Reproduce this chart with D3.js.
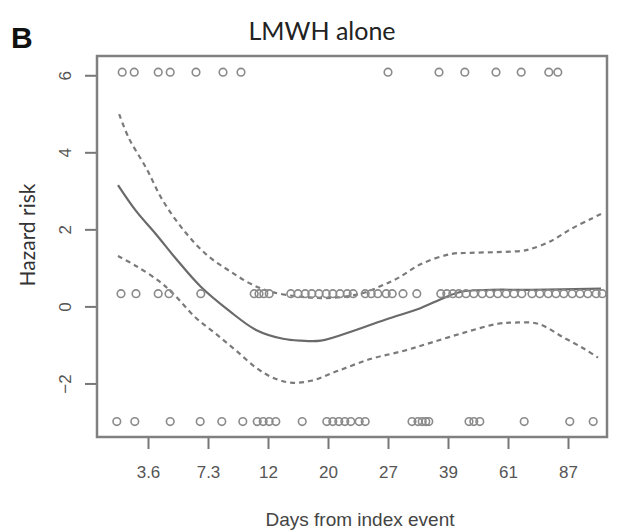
<!DOCTYPE html>
<html>
<head>
<meta charset="utf-8">
<script src="https://cdn.jsdelivr.net/npm/d3@7.9.0/dist/d3.min.js"></script>
<style>
  body { margin: 0; background: #fff; }
  svg { display: block; }
  .tick text { font-family: "Liberation Sans", Arial, sans-serif; font-size: 17px; fill: #555; }
  .tick line { stroke: #777; stroke-width: 2; }
</style>
</head>
<body>
<svg id="chart" width="618" height="532"></svg>
<script>
// x is in axis-position units (tick k sits at k), y is hazard risk
const xTicks = [1, 2, 3, 4, 5, 6, 7, 8];
const xTickLabels = ["3.6", "7.3", "12", "20", "27", "39", "61", "87"];
const yTicks = [-2, 0, 2, 4, 6];

// fitted hazard curve
const fitX = [0.50, 0.80, 1.13, 1.47, 1.88, 2.35, 2.80, 3.25, 3.55, 3.88, 4.43, 5.00, 5.55, 5.93, 6.22, 6.72, 7.38, 8.55];
const fitY = [3.15, 2.48, 1.88, 1.23, 0.51, -0.11, -0.61, -0.84, -0.89, -0.89, -0.63, -0.32, -0.04, 0.22, 0.38, 0.43, 0.43, 0.46];

// upper confidence band
const upX = [0.52, 0.68, 0.97, 1.25, 1.63, 2.00, 2.38, 2.72, 3.05, 3.55, 4.05, 4.55, 4.88, 5.17, 5.55, 6.05, 6.38, 6.83, 7.22, 7.38, 7.72, 8.05, 8.38, 8.55];
const upY = [4.99, 4.37, 3.59, 2.74, 1.91, 1.31, 0.90, 0.58, 0.38, 0.25, 0.22, 0.33, 0.53, 0.74, 1.10, 1.36, 1.39, 1.41, 1.44, 1.49, 1.70, 2.01, 2.27, 2.40];

// lower confidence band
const loX = [0.50, 0.80, 1.18, 1.42, 1.80, 2.13, 2.47, 2.80, 3.08, 3.38, 3.72, 4.17, 4.72, 5.27, 5.72, 6.27, 6.83, 7.10, 7.50, 7.93, 8.27, 8.50];
const loY = [1.31, 1.05, 0.66, 0.33, -0.30, -0.71, -1.15, -1.59, -1.85, -1.98, -1.93, -1.67, -1.36, -1.15, -0.94, -0.68, -0.45, -0.42, -0.45, -0.81, -1.10, -1.33];

// observation rugs (three rows of points)
const topRowY = 6.08;
const topRowX = [0.57, 0.77, 1.17, 1.37, 1.80, 2.25, 2.55, 5.00, 5.85, 6.28, 6.80, 7.22, 7.68, 7.83];
const midRowY = 0.33;
const midRowX = [0.55, 0.80, 1.17, 1.35, 1.88, 2.77, 2.85, 2.93, 3.02, 3.38, 3.50, 3.62, 3.73, 3.85, 3.97, 4.08, 4.20, 4.32, 4.42,
  4.62, 4.72, 4.83, 4.97, 5.07, 5.25, 5.48, 5.88, 5.98, 6.08, 6.18, 6.30, 6.43, 6.57, 6.70, 6.83, 6.97, 7.10, 7.23,
  7.40, 7.53, 7.67, 7.80, 7.93, 8.07, 8.20, 8.33, 8.47, 8.57];
const botRowY = -2.99;
const botRowX = [0.48, 0.78, 1.37, 1.87, 2.23, 2.58, 2.82, 2.92, 3.02, 3.13, 3.57, 3.98, 4.08, 4.18, 4.28, 4.38, 4.52, 4.62,
  5.40, 5.50, 5.57, 5.63, 5.68, 6.35, 6.43, 6.53, 7.27, 8.03, 8.42];

const svg = d3.select("#chart");
const box = { left: 97, right: 607, top: 56, bottom: 437 };

const x = d3.scaleLinear().domain([0.15, 8.65]).range([box.left, box.right]);
const y = d3.scaleLinear().domain([-3.39, 6.5]).range([box.bottom, box.top]);

// x axis
const xAxis = svg.append("g")
    .attr("transform", `translate(0,${box.bottom})`)
    .call(d3.axisBottom(x).tickValues(xTicks).tickSize(12).tickPadding(17)
        .tickFormat((d, i) => xTickLabels[i]));
xAxis.select(".domain").remove();

// y axis with rotated labels
const yAxis = svg.append("g")
    .attr("transform", `translate(${box.left},0)`)
    .call(d3.axisLeft(y).tickValues(yTicks).tickSize(12).tickFormat(d3.format("d")));
yAxis.select(".domain").remove();
yAxis.selectAll(".tick text")
    .attr("x", null).attr("dy", null)
    .attr("text-anchor", "middle")
    .attr("transform", "translate(-32,0) rotate(-90)")
    .attr("dy", "0.35em");

const line = (xs, ys) => d3.line()
    .x((d, i) => x(xs[i]))
    .y((d, i) => y(ys[i]))
    .curve(d3.curveCatmullRom.alpha(0.5))(xs);

svg.append("path").attr("d", line(upX, upY))
    .attr("fill", "none").attr("stroke", "#7a7a7a").attr("stroke-width", 2.2)
    .attr("stroke-dasharray", "5,4");
svg.append("path").attr("d", line(loX, loY))
    .attr("fill", "none").attr("stroke", "#7a7a7a").attr("stroke-width", 2.2)
    .attr("stroke-dasharray", "5,4");
svg.append("path").attr("d", line(fitX, fitY))
    .attr("fill", "none").attr("stroke", "#6a6a6a").attr("stroke-width", 2.2);

// points
const rows = [[topRowX, topRowY], [midRowX, midRowY], [botRowX, botRowY]];
rows.forEach(([xs, yv]) => {
    svg.append("g").selectAll("circle")
        .data(xs)
        .join("circle")
        .attr("cx", d => x(d))
        .attr("cy", y(yv))
        .attr("r", 3.8)
        .attr("fill", "none")
        .attr("stroke", "#8a8a8a")
        .attr("stroke-width", 1.6);
});

// plot frame
svg.append("rect")
    .attr("x", box.left).attr("y", box.top)
    .attr("width", box.right - box.left).attr("height", box.bottom - box.top)
    .attr("fill", "none").attr("stroke", "#808080").attr("stroke-width", 2.5);

// titles
svg.append("text")
    .attr("x", 322).attr("y", 40)
    .attr("text-anchor", "middle")
    .style("font-family", "Lato, 'Open Sans', sans-serif")
    .style("font-size", "25px")
    .attr("fill", "#222")
    .text("LMWH alone");

svg.append("text")
    .attr("x", 11).attr("y", 48)
    .style("font-family", "'Liberation Sans', Arial, sans-serif")
    .style("font-size", "30px").style("font-weight", "bold")
    .attr("fill", "#111")
    .text("B");

svg.append("text")
    .attr("transform", "translate(35,235) rotate(-90)")
    .attr("text-anchor", "middle")
    .style("font-family", "Lato, 'Open Sans', sans-serif")
    .style("font-size", "21px")
    .attr("fill", "#333")
    .text("Hazard risk");

svg.append("text")
    .attr("x", 360).attr("y", 526)
    .attr("text-anchor", "middle")
    .style("font-family", "'Liberation Sans', Arial, sans-serif")
    .style("font-size", "19px")
    .attr("fill", "#444")
    .text("Days from index event");
</script>
</body>
</html>
